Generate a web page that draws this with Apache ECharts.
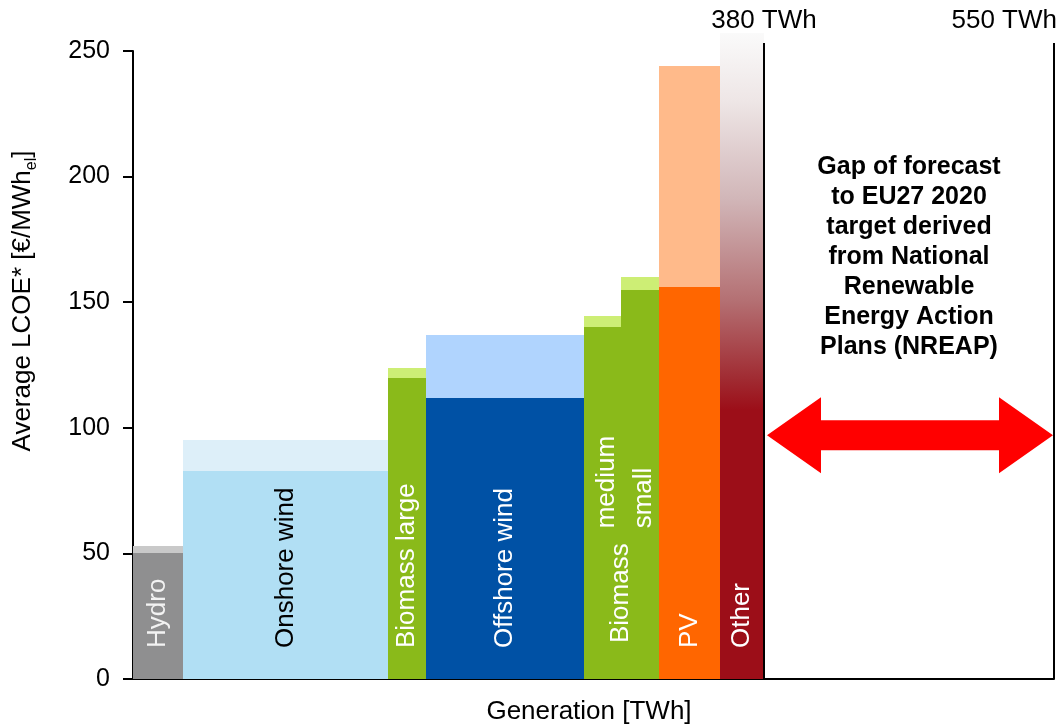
<!DOCTYPE html>
<html>
<head>
<meta charset="utf-8">
<title>Average LCOE by renewable technology</title>
<script src="https://cdn.jsdelivr.net/npm/echarts@6/dist/echarts.min.js"></script>
<style>
  html, body { margin: 0; padding: 0; background: #ffffff; }
  #chart { width: 1058px; height: 725px; }
</style>
</head>
<body>
<div id="chart"></div>
<script>
// ---- data ---------------------------------------------------------------
const categories = ['Hydro', 'Onshore wind', 'Biomass large', 'Offshore wind',
                    'Biomass medium', 'Biomass small', 'PV', 'Other'];
// generation per technology [TWh] (bar widths, cumulative to 380 TWh)
const generationTWh = [30, 123.5, 23, 95, 22.5, 22.5, 37, 26.5];
// average LCOE [€/MWh_el]: solid part and upper (lighter) part
const lcoeBase  = [50, 83, 120, 112, 140, 155, 156, 107];
const lcoeUpper = [53, 95, 124, 137, 144.5, 160, 244, 257];
// text written inside the bars
const barLabels = ['Hydro', 'Onshore wind', 'Biomass large', 'Offshore wind',
                   'medium', 'small', 'PV', 'Other'];
// the two small biomass bars share one "Biomass" caption
const biomassGroup = [4, 5];
const biomassCaption = 'Biomass';
// y-axis ticks
const lcoeTicks = [0, 50, 100, 150, 200, 250];
// forecast and EU27 2020 target generation [TWh]
const gapBounds = [380, 550];
const gapNote = 'Gap of forecast\nto EU27 2020\ntarget derived\nfrom National\nRenewable\nEnergy Action\nPlans (NREAP)';

// ---- styles -------------------------------------------------------------
const FONT = '"Liberation Sans", Arial, Helvetica, sans-serif';
const baseColors  = ['#8f8f90', '#b1dff4', '#8aba1a', '#0051a5', '#8aba1a', '#8aba1a', '#ff6600', '#9c0e18'];
const upperColors = ['#c9c9c9', '#ddeff9', '#cdee75', '#b0d4fe', '#cdee75', '#cdee75', '#ffba8a', '#fafafa'];
const labelColors = ['#f2f2f2', '#000000', '#ffffff', '#ffffff', '#ffffff', '#ffffff', '#ffffff', '#ffffff'];
// fade of the "Other" bar, from its solid level up to its top
const otherFade = [
  [0.00, '#9c0e18'], [0.08, '#a02a31'], [0.29, '#b47073'],
  [0.56, '#d1b6b8'], [0.82, '#eee6e6'], [1.00, '#fafafa']
];
const LABEL_FONT_SIZE = 26;
const LABEL_START = 31;          // px above the axis where bar captions begin
const ARROW_LEVEL = 97;          // €/MWh level of the double arrow
const NOTE_LEVEL = 168;          // €/MWh level of the centre of the note

// ---- derived rows: [start, end, base, upper, index] ----------------------
const rows = [];
let acc = 0;
categories.forEach((c, i) => {
  rows.push([acc, acc + generationTWh[i], lcoeBase[i], lcoeUpper[i], i]);
  acc += generationTWh[i];
});

const measureCtx = document.createElement('canvas').getContext('2d');
function textWidth(t, size) {
  measureCtx.font = size + 'px ' + FONT;
  return measureCtx.measureText(t).width;
}

function verticalText(x, y, text, color) {
  return {
    type: 'text', x: x, y: y, rotation: Math.PI / 2, z2: 20,
    style: {
      text: text, fill: color, fontSize: LABEL_FONT_SIZE, fontFamily: FONT,
      align: 'left', verticalAlign: 'middle', textAlign: 'left', textVerticalAlign: 'middle'
    }
  };
}

function renderBar(params, api) {
  const x0 = api.value(0), x1 = api.value(1), lo = api.value(2), hi = api.value(3);
  const i = api.value(4);
  const pZero = api.coord([x0, 0]);
  const pEnd = api.coord([x1, 0]);
  // snap the bar edges to whole pixels so neighbouring bars meet without seams
  const left = Math.round(pZero[0]);
  const right = Math.round(pEnd[0]);
  const base = Math.round(pZero[1]);
  const yLo = Math.round(api.coord([x0, lo])[1]);
  const yHi = Math.round(api.coord([x0, hi])[1]);
  const w = right - left;
  const children = [];

  if (categories[i] === 'Other') {
    const stops = [];
    for (let k = otherFade.length - 1; k >= 0; k--) {
      const v = lo + otherFade[k][0] * (hi - lo);
      stops.push({ offset: (hi - v) / hi, color: otherFade[k][1] });
    }
    stops.push({ offset: 1, color: otherFade[0][1] });
    children.push({
      type: 'rect',
      shape: { x: left, y: yHi, width: w, height: base - yHi },
      style: { fill: new echarts.graphic.LinearGradient(0, 0, 0, 1, stops) }
    });
  } else {
    children.push({
      type: 'rect',
      shape: { x: left, y: yHi, width: w, height: yLo - yHi },
      style: { fill: upperColors[i] }
    });
    children.push({
      type: 'rect',
      shape: { x: left, y: yLo, width: w, height: base - yLo },
      style: { fill: baseColors[i] }
    });
  }

  const cx = left + w / 2;
  let start = base - LABEL_START;
  if (biomassGroup.indexOf(i) >= 0) {
    if (i === biomassGroup[0]) {
      // shared caption centred on the edge between the two biomass bars
      children.push(verticalText(right, base - LABEL_START - 5, biomassCaption, labelColors[i]));
    }
    start = base - LABEL_START - 5 - textWidth(biomassCaption, LABEL_FONT_SIZE) - 15;
    children.push(verticalText(cx + 4, start, barLabels[i], labelColors[i]));
  } else {
    children.push(verticalText(cx, start, barLabels[i], labelColors[i]));
  }
  return { type: 'group', children: children };
}

function renderBound(params, api) {
  const v = api.value(0);
  const p0 = api.coord([v, 0]);
  const topY = params.coordSys.y - 8;
  const last = params.dataIndex === gapBounds.length - 1;
  return {
    type: 'group',
    children: [
      {
        type: 'line', z2: 30,
        shape: { x1: p0[0], y1: p0[1], x2: p0[0], y2: topY },
        style: { stroke: '#000000', lineWidth: 2 }
      },
      {
        type: 'text', z2: 30,
        x: last ? p0[0] + 3 : p0[0], y: 21,
        style: {
          text: v + ' TWh', fill: '#000000', fontSize: 26, fontFamily: FONT,
          align: last ? 'right' : 'center', verticalAlign: 'middle',
          textAlign: last ? 'right' : 'center', textVerticalAlign: 'middle'
        }
      }
    ]
  };
}

function renderGap(params, api) {
  const a = api.value(0), b = api.value(1);
  const pa = api.coord([a, ARROW_LEVEL]);
  const pb = api.coord([b, ARROW_LEVEL]);
  const xl = pa[0] + 3, xr = pb[0] - 1, y = pa[1];
  const head = 54, headH = 38, shaftH = 15;
  const pn = api.coord([(a + b) / 2, NOTE_LEVEL]);
  return {
    type: 'group',
    children: [
      {
        type: 'polygon',
        shape: {
          points: [
            [xl, y], [xl + head, y - headH], [xl + head, y - shaftH],
            [xr - head, y - shaftH], [xr - head, y - headH], [xr, y],
            [xr - head, y + headH], [xr - head, y + shaftH],
            [xl + head, y + shaftH], [xl + head, y + headH]
          ]
        },
        style: { fill: '#ff0000' }
      },
      {
        type: 'text', x: pn[0], y: pn[1],
        style: {
          text: gapNote, fill: '#000000', fontSize: 25, fontWeight: 'bold',
          fontFamily: FONT, lineHeight: 30,
          align: 'center', verticalAlign: 'middle',
          textAlign: 'center', textVerticalAlign: 'middle'
        }
      }
    ]
  };
}

const axisLineStyle = { show: true, lineStyle: { color: '#000000', width: 2 } };

const chart = echarts.init(document.getElementById('chart'), null, { renderer: 'canvas' });
chart.setOption({
  animation: false,
  backgroundColor: '#ffffff',
  grid: [
    { left: 133, top: 51, width: 631, bottom: 46 },
    { left: 764, top: 51, right: 4, bottom: 46 }
  ],
  xAxis: [
    {
      gridIndex: 0, type: 'value', min: 0, max: gapBounds[0],
      axisLine: axisLineStyle, axisTick: { show: false },
      axisLabel: { show: false }, splitLine: { show: false }
    },
    {
      gridIndex: 1, type: 'value', min: gapBounds[0], max: gapBounds[1],
      axisLine: axisLineStyle, axisTick: { show: false },
      axisLabel: { show: false }, splitLine: { show: false }
    }
  ],
  yAxis: [
    {
      gridIndex: 0, type: 'value',
      min: lcoeTicks[0], max: lcoeTicks[lcoeTicks.length - 1],
      interval: lcoeTicks[1] - lcoeTicks[0],
      axisLine: axisLineStyle,
      axisTick: { show: true, inside: false, length: 10, lineStyle: { color: '#000000', width: 2 } },
      axisLabel: { color: '#000000', fontSize: 25, fontFamily: FONT, margin: 23 },
      splitLine: { show: false },
      name: '{n|Average LCOE* [€/MWh}{s|el}{n|]}',
      nameLocation: 'middle',
      nameGap: 93,
      nameTextStyle: {
        padding: [0, 0, 0, 128],
        rich: {
          n: { fontSize: 26, fontFamily: FONT, color: '#000000', lineHeight: 34 },
          s: { fontSize: 16, fontFamily: FONT, color: '#000000', lineHeight: 16, verticalAlign: 'bottom' }
        }
      }
    },
    {
      gridIndex: 1, type: 'value',
      min: lcoeTicks[0], max: lcoeTicks[lcoeTicks.length - 1],
      show: false, splitLine: { show: false }
    }
  ],
  graphic: [
    {
      type: 'text', x: 589, y: 712,
      style: {
        text: 'Generation [TWh]', fill: '#000000', fontSize: 26, fontFamily: FONT,
        align: 'center', verticalAlign: 'middle', textAlign: 'center', textVerticalAlign: 'middle'
      }
    }
  ],
  series: [
    {
      name: 'LCOE', type: 'custom', xAxisIndex: 0, yAxisIndex: 0,
      clip: false, renderItem: renderBar,
      encode: { x: [0, 1], y: [2, 3] },
      data: rows
    },
    {
      name: 'Gap', type: 'custom', xAxisIndex: 1, yAxisIndex: 1,
      clip: false, renderItem: renderGap,
      encode: { x: [0, 1] },
      data: [gapBounds.slice()]
    },
    {
      name: 'Bounds', type: 'custom', xAxisIndex: 1, yAxisIndex: 1,
      clip: false, renderItem: renderBound, z: 5,
      encode: { x: 0 },
      data: gapBounds.map(v => [v])
    }
  ]
});
</script>
</body>
</html>
